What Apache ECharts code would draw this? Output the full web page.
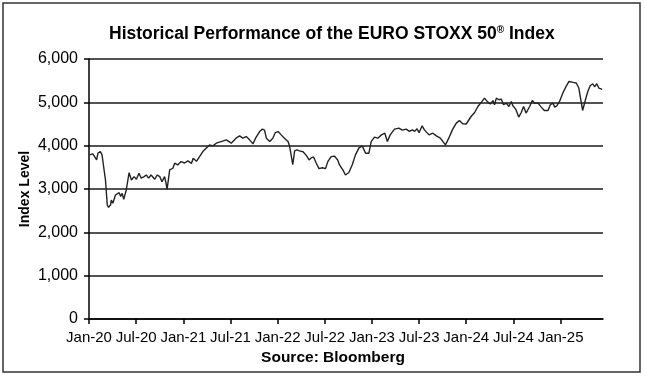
<!DOCTYPE html>
<html>
<head>
<meta charset="utf-8">
<script src="https://cdn.jsdelivr.net/npm/echarts@6/dist/echarts.min.js"></script>
<style>
html,body{margin:0;padding:0;background:#fff;}
#c{width:645px;height:377px;}
</style>
</head>
<body>
<div id="c"></div>
<script>
// ---- data ----
var dates = [
'2020-01-03','2020-01-16','2020-01-31','2020-02-05','2020-02-14','2020-02-20','2020-03-04','2020-03-11','2020-03-16','2020-03-24',
'2020-03-27','2020-04-02','2020-04-12','2020-04-19','2020-04-26','2020-05-02','2020-05-08','2020-05-14','2020-05-24','2020-06-04',
'2020-06-13','2020-06-23','2020-07-02','2020-07-12','2020-07-21','2020-08-01','2020-08-10','2020-08-19','2020-08-29','2020-09-12',
'2020-09-22','2020-10-01','2020-10-10','2020-10-20','2020-10-26','2020-10-30','2020-11-09','2020-11-21','2020-11-28','2020-12-10',
'2020-12-23','2021-01-06','2021-01-19','2021-02-02','2021-02-08','2021-02-20','2021-03-03','2021-03-16','2021-03-29','2021-04-11',
'2021-04-24','2021-05-07','2021-05-26','2021-06-15','2021-07-04','2021-07-23','2021-08-06','2021-08-19','2021-09-01','2021-09-14',
'2021-09-27','2021-10-07','2021-10-23','2021-11-03','2021-11-11','2021-11-18','2021-12-01','2021-12-13','2021-12-23','2022-01-03',
'2022-01-15','2022-01-28','2022-02-10','2022-02-16','2022-02-27','2022-03-06','2022-03-15','2022-03-25','2022-04-08','2022-04-21',
'2022-05-01','2022-05-10','2022-05-19','2022-05-29','2022-06-09','2022-06-22','2022-07-04','2022-07-13','2022-07-26','2022-08-08',
'2022-08-21','2022-08-28','2022-09-10','2022-09-20','2022-10-03','2022-10-16','2022-10-29','2022-11-11','2022-11-24','2022-12-07',
'2022-12-20','2022-12-29','2023-01-11','2023-01-24','2023-02-07','2023-02-19','2023-02-28','2023-03-11','2023-03-28','2023-04-14',
'2023-04-27','2023-05-12','2023-05-25','2023-06-05','2023-06-14','2023-06-23','2023-07-01','2023-07-13','2023-07-22','2023-08-09',
'2023-08-24','2023-09-07','2023-09-22','2023-10-02','2023-10-12','2023-10-25','2023-11-08','2023-11-23','2023-12-05','2023-12-18',
'2024-01-01','2024-01-07','2024-01-20','2024-02-03','2024-02-15','2024-02-28','2024-03-11','2024-03-24','2024-04-03','2024-04-13',
'2024-04-19','2024-04-26','2024-05-06','2024-05-15','2024-05-24','2024-06-04','2024-06-14','2024-06-23','2024-06-29','2024-07-10',
'2024-07-22','2024-08-01','2024-08-10','2024-08-20','2024-09-03','2024-09-13','2024-09-22','2024-10-05','2024-10-18','2024-10-30',
'2024-11-13','2024-11-22','2024-12-02','2024-12-09','2024-12-17','2024-12-28','2025-01-10','2025-01-23','2025-02-03','2025-02-18',
'2025-03-01','2025-03-11','2025-03-20','2025-03-26','2025-04-06','2025-04-15','2025-04-24','2025-05-04','2025-05-11','2025-05-20',
'2025-05-28','2025-06-03','2025-06-10'
];
var levels = [
3787,3810,3671,3830,3863,3787,3208,2630,2577,2630,
2746,2670,2862,2822,2915,2830,2900,2762,2977,3377,
3208,3285,3225,3363,3248,3285,3324,3250,3324,3225,
3324,3285,3169,3285,3132,2993,3440,3479,3595,3556,
3632,3600,3648,3590,3710,3640,3748,3863,3942,4018,
3995,4057,4095,4134,4057,4173,4226,4173,4210,4134,
4041,4173,4326,4381,4360,4173,4095,4173,4303,4326,
4249,4173,4095,3980,3560,3880,3902,3880,3860,3770,
3671,3720,3740,3600,3470,3490,3470,3632,3748,3760,
3671,3556,3440,3324,3380,3556,3787,3942,3995,3826,
3826,4095,4196,4173,4249,4288,4095,4249,4381,4404,
4360,4381,4330,4365,4330,4389,4300,4458,4365,4249,
4288,4226,4173,4095,4018,4173,4365,4520,4580,4504,
4500,4481,4673,4765,4904,5006,5098,5006,4960,5040,
4944,5098,5059,5075,4944,4982,4904,5020,4920,4844,
4659,4765,4904,4752,4904,5043,4982,4982,4890,4812,
4812,4944,4982,4890,4920,5020,5214,5367,5482,5460,
5445,5330,5020,4812,5059,5251,5383,5429,5360,5429,
5330,5290,5300
];
var monthNames = ['Jan','Feb','Mar','Apr','May','Jun','Jul','Aug','Sep','Oct','Nov','Dec'];
var xTickLabels = ['Jan-20','Jul-20','Jan-21','Jul-21','Jan-22','Jul-22','Jan-23','Jul-23','Jan-24','Jul-24','Jan-25'];
var yTicks = [0,1000,2000,3000,4000,5000,6000];

// ---- helpers: date -> months since Jan 2020 ----
function monthsSince2020(s){
  var p = s.split('-'), y = +p[0], m = +p[1], d = +p[2];
  var dim = new Date(y, m, 0).getDate();
  return (y-2020)*12 + (m-1) + (d-1)/dim;
}
function labelToMonths(l){
  var p = l.split('-');
  return (2000 + +p[1] - 2020)*12 + monthNames.indexOf(p[0]);
}
var tickPos = xTickLabels.map(labelToMonths);
var seriesData = dates.map(function(d,i){ return [monthsSince2020(d), levels[i]]; });

var FONT = 'Liberation Sans, Arial, sans-serif';
var chart = echarts.init(document.getElementById('c'), null, {renderer:'canvas'});
chart.setOption({
  backgroundColor:'#fff',
  animation:false,
  title:{
    text:'{a|Historical Performance of the EURO STOXX 50}{s|®}{a| Index}',
    left:104, top:20,
    textStyle:{
      rich:{
        a:{fontFamily:FONT,fontSize:17.5,fontWeight:'bold',color:'#000'},
        s:{fontFamily:FONT,fontSize:10,fontWeight:'bold',color:'#000',verticalAlign:'top',padding:[0,0,7,0]}
      }
    }
  },
  grid:{left:89,top:59,right:42,bottom:58,containLabel:false},
  xAxis:{
    type:'value', min:0, max:65.4,
    axisLine:{show:true,lineStyle:{color:'#000',width:1.5}},
    axisTick:{show:true,customValues:tickPos,length:5,lineStyle:{color:'#000',width:1.5}},
    axisLabel:{
      customValues:tickPos,
      formatter:function(v){ var i = tickPos.indexOf(v); return i>=0 ? xTickLabels[i] : ''; },
      color:'#000', fontFamily:FONT, fontSize:15, margin:11
    },
    splitLine:{show:false}
  },
  yAxis:{
    type:'value', min:0, max:6000, interval:1000,
    name:'Index Level', nameLocation:'middle', nameRotate:90, nameGap:57, nameMoveOverlap:false,
    nameTextStyle:{color:'#000',fontFamily:FONT,fontSize:14,fontWeight:'bold'},
    axisLine:{show:true,lineStyle:{color:'#000',width:1.5}},
    axisTick:{show:true,length:5,lineStyle:{color:'#000',width:1.5}},
    axisLabel:{
      formatter:function(v){ return v.toLocaleString('en-US'); },
      color:'#000', fontFamily:FONT, fontSize:16, margin:11
    },
    splitLine:{show:true,lineStyle:{color:'#1a1a1a',width:1.7}}
  },
  series:[{
    type:'line', data:seriesData, showSymbol:false, symbol:'none',
    lineStyle:{color:'#222',width:1.4}, z:3
  }],
  graphic:[
    {type:'rect', shape:{x:3,y:3,width:637,height:369}, style:{fill:'none',stroke:'#333',lineWidth:1.5}, silent:true},
    {type:'text', x:333, y:358, style:{text:'Source: Bloomberg', fill:'#000', font:'bold 15.5px '+FONT, textAlign:'center', textVerticalAlign:'middle'}}
  ]
});
</script>
</body>
</html>
